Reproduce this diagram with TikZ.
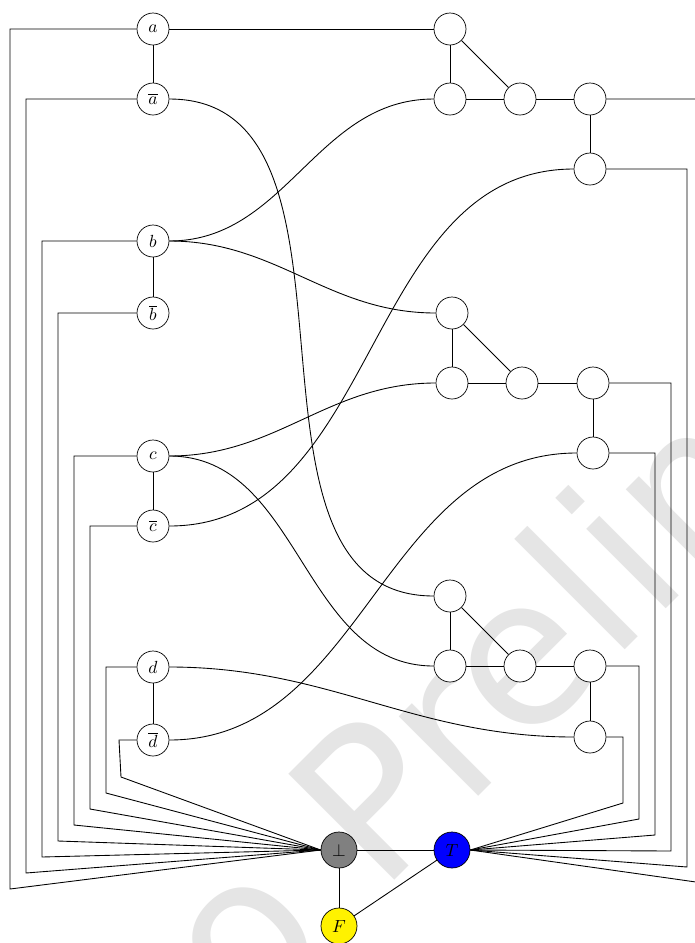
\documentclass[tikz,border=0pt]{standalone}
\usepackage{fontspec}
\usepackage{xcolor}
\usepackage{tikz}
\newfontfamily\wmfont{DejaVu Sans}

\begin{document}
\begin{tikzpicture}[
    x=0.2mm, y=-0.2mm,
    vertex/.style={circle, draw=black, fill=white, minimum size=6.4mm, inner sep=0pt},
    colour/.style={circle, draw=black, minimum size=7.2mm, inner sep=0pt},
    wire/.style={draw=black, line width=0.5pt}
    ]
    \useasboundingbox (0,0) rectangle (695,943);
    \clip (0,0) rectangle (695,943);

    % watermark
    \node (wm) [rotate=45, anchor=base west, inner sep=0pt, text=black!10,
        font=\fontsize{117}{117}\selectfont\wmfont] at (245,1030) {o Preliminary};

    % literals
    \node[vertex] (a) at (153,29) {$a$};
    \node[vertex] (na) at (153,99) {$\overline{a}$};
    \node[vertex] (b) at (153,241) {$b$};
    \node[vertex] (nb) at (153,313) {$\overline{b}$};
    \node[vertex] (c) at (153,456) {$c$};
    \node[vertex] (nc) at (153,526) {$\overline{c}$};
    \node[vertex] (d) at (153,667) {$d$};
    \node[vertex] (nd) at (153,740) {$\overline{d}$};

    % clause gadgets
    \node[vertex] (cl1top) at (450,29) {};
    \node[vertex] (cl1in) at (450,99) {};
    \node[vertex] (cl1mid) at (520,99) {};
    \node[vertex] (cl1or) at (590,99) {};
    \node[vertex] (cl1out) at (590,169) {};

    \node[vertex] (cl2top) at (452,313) {};
    \node[vertex] (cl2in) at (452,383) {};
    \node[vertex] (cl2mid) at (522,383) {};
    \node[vertex] (cl2or) at (593,383) {};
    \node[vertex] (cl2out) at (593,453) {};

    \node[vertex] (cl3top) at (450,596) {};
    \node[vertex] (cl3in) at (450,666) {};
    \node[vertex] (cl3mid) at (520,666) {};
    \node[vertex] (cl3or) at (590,666) {};
    \node[vertex] (cl3out) at (590,737) {};

    % palette
    \node[colour, fill=gray] (bot) at (339,850) {$\bot$};
    \node[colour, fill=blue] (T) at (452,850) {$T$};
    \node[colour, fill=yellow] (F) at (339,926) {$F$};

    \draw[wire] (a) -- (na);
    \draw[wire] (b) -- (nb);
    \draw[wire] (c) -- (nc);
    \draw[wire] (d) -- (nd);

    \draw[wire] (a) -- (cl1top);
    \draw[wire] (na) to[out=0, in=180] (cl3top);
    \draw[wire] (b) to[out=0, in=180] (cl1in);
    \draw[wire] (b) to[out=0, in=180] (cl2top);
    \draw[wire] (c) to[out=0, in=180] (cl2in);
    \draw[wire] (c) to[out=0, in=180] (cl3in);
    \draw[wire] (nc) to[out=0, in=180] (cl1out);
    \draw[wire] (d) to[out=0, in=180] (cl3out);
    \draw[wire] (nd) to[out=0, in=180] (cl2out);

    \draw[wire] (cl1top) -- (cl1in);
    \draw[wire] (cl1top) -- (cl1mid);
    \draw[wire] (cl1in) -- (cl1mid) -- (cl1or) -- (cl1out);
    \draw[wire] (cl2top) -- (cl2in);
    \draw[wire] (cl2top) -- (cl2mid);
    \draw[wire] (cl2in) -- (cl2mid) -- (cl2or) -- (cl2out);
    \draw[wire] (cl3top) -- (cl3in);
    \draw[wire] (cl3top) -- (cl3mid);
    \draw[wire] (cl3in) -- (cl3mid) -- (cl3or) -- (cl3out);

    \draw[wire] (bot) -- (T);
    \draw[wire] (bot) -- (F);
    \draw[wire] (F) -- (T);

    \draw[wire] (a) -| (10,889) -- (bot.west);
    \draw[wire] (na) -| (26,873) -- (bot.west);
    \draw[wire] (b) -| (42,857) -- (bot.west);
    \draw[wire] (nb) -| (58,841) -- (bot.west);
    \draw[wire] (c) -| (74,825) -- (bot.west);
    \draw[wire] (nc) -| (90,809) -- (bot.west);
    \draw[wire] (d) -| (106,793) -- (bot.west);
    \draw[wire] (nd) -- (119,740) -- (121,777) -- (bot.west);

    \draw[wire] (cl1or) -| (703,883) -- (T.east);
    \draw[wire] (cl1out) -| (687,867) -- (T.east);
    \draw[wire] (cl2or) -| (671,851) -- (T.east);
    \draw[wire] (cl2out) -| (655,835) -- (T.east);
    \draw[wire] (cl3or) -| (639,819) -- (T.east);
    \draw[wire] (cl3out) -| (623,803) -- (T.east);
\end{tikzpicture}
\end{document}
